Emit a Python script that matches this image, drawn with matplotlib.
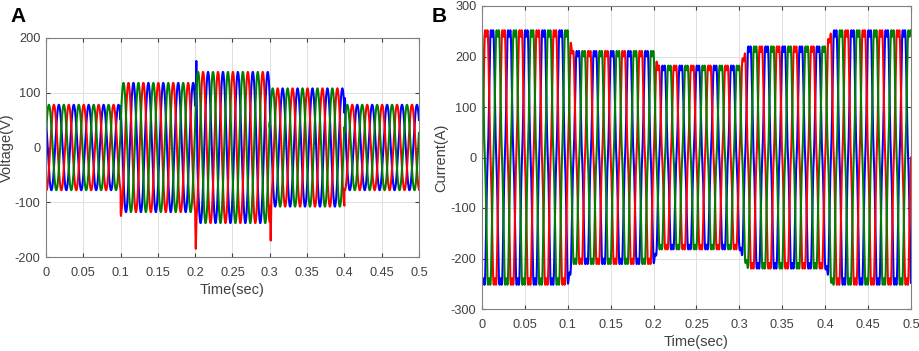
import matplotlib

matplotlib.use("Agg")
import matplotlib.pyplot as plt
import numpy as np

plt.rcParams["font.family"] = ["Liberation Sans", "DejaVu Sans"]
plt.rcParams["axes.unicode_minus"] = False

# Time base and supply frequency
t_end = 0.5
freq_hz = 50.0

# Voltage panel: amplitude per 0.1 s segment (V)
v_seg_edges = [0.0, 0.1, 0.2, 0.3, 0.4, 0.5]
v_amplitude = [78, 118, 138, 108, 78]
v_phase_deg = {"r": -100, "b": 140, "g": 20}
# switching transients: (time, phase, peak value, half width in s)
v_spikes = [
    (0.1005, "r", -125, 0.0006),
    (0.2015, "b", 158, 0.0012),
    (0.2008, "r", -185, 0.0007),
    (0.3012, "r", -170, 0.0007),
    (0.4008, "b", 90, 0.0012),
]

# Current panel: amplitude per 0.1 s segment (A)
i_seg_edges = [0.0, 0.1, 0.2, 0.3, 0.4, 0.5]
i_amplitude = [252, 211, 182, 220, 252]
i_ramp_s = [0.0, 0.006, 0.005, 0.010, 0.008]
i_phase_deg = {"r": 0, "b": -120, "g": 120}
i_harmonic5 = -0.09

colors = {"r": "#ff0000", "g": "#008000", "b": "#0000ff"}
draw_order = ["b", "r", "g"]

t = np.linspace(0, t_end, 50001)
w = 2 * np.pi * freq_hz


def step_envelope(edges, amps, ramps=None):
    env = np.full_like(t, amps[0], dtype=float)
    for k in range(1, len(amps)):
        t0 = edges[k]
        r = ramps[k] if ramps is not None else 0.0
        if r > 0:
            frac = np.clip((t - t0) / r, 0, 1)
        else:
            frac = (t >= t0).astype(float)
        env = env + frac * (amps[k] - amps[k - 1])
    return env


v_env = step_envelope(v_seg_edges, v_amplitude)
voltage = {}
for ph, deg in v_phase_deg.items():
    voltage[ph] = v_env * np.sin(w * t + np.deg2rad(deg))
for ts, ph, val, hw in v_spikes:
    tri = np.clip(1 - np.abs(t - ts) / hw, 0, 1)
    voltage[ph] = voltage[ph] * (1 - tri) + val * tri

i_env = step_envelope(i_seg_edges, i_amplitude, i_ramp_s)
cyc = np.linspace(0, 2 * np.pi, 2001)
shape_peak = np.max(np.sin(cyc) + i_harmonic5 * np.sin(5 * cyc))
current = {}
for ph, deg in i_phase_deg.items():
    th = w * t + np.deg2rad(deg)
    shape = np.sin(th) + i_harmonic5 * np.sin(5 * th)
    current[ph] = i_env * shape / shape_peak

fig = plt.figure(figsize=(9.2, 3.51), dpi=100)
ax1 = fig.add_axes([46 / 920, 1 - 257 / 351, 373 / 920, 219 / 351])
ax2 = fig.add_axes([482 / 920, 1 - 309 / 351, 429 / 920, 303 / 351])

text_col = "#404040"
# ylabel x position (axes coords of the label's right edge)
for ax, data, ylim, ylabel, ylab_x in [
    (ax1, voltage, (-200, 200), "Voltage(V)", -0.086),
    (ax2, current, (-300, 300), "Current(A)", -0.079),
]:
    for ph in draw_order:
        ax.plot(t, data[ph], color=colors[ph], lw=1.5)
    ax.set_xlim(0, t_end)
    ax.set_ylim(*ylim)
    ax.set_xticks(np.arange(0, 0.501, 0.05))
    ax.set_xticklabels(["0", "0.05", "0.1", "0.15", "0.2", "0.25", "0.3",
                        "0.35", "0.4", "0.45", "0.5"])
    ax.set_yticks(np.arange(ylim[0], ylim[1] + 1, 100))
    ax.grid(True, color="#e0e0e0", lw=0.7)
    ax.set_axisbelow(True)
    ax.tick_params(direction="in", length=3, labelsize=9.2, colors=text_col,
                   top=True, right=True)
    ax.tick_params(axis="x", pad=7)
    ax.tick_params(axis="y", pad=4)
    for s in ax.spines.values():
        s.set_color("#808080")
        s.set_linewidth(0.8)
    ax.set_xlabel("Time(sec)", fontsize=10.5, color=text_col, labelpad=3)
    ax.set_ylabel(ylabel, fontsize=10.5, color=text_col)
    ax.yaxis.set_label_coords(ylab_x, 0.5)

fig.text(10 / 920, 1 - 16 / 351, "A", fontsize=15, fontweight="bold", va="center")
fig.text(432 / 920, 1 - 16 / 351, "B", fontsize=15, fontweight="bold", va="center")

fig.savefig("out.png", dpi=100)
